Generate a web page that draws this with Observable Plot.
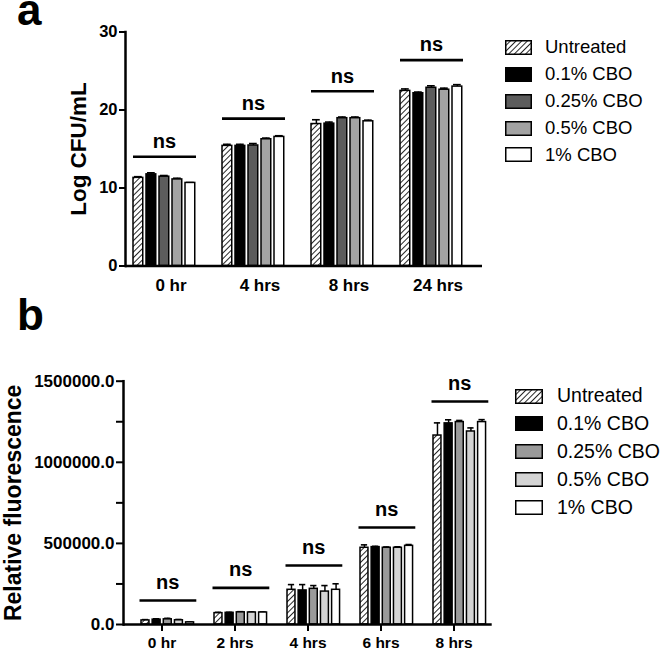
<!DOCTYPE html>
<html><head><meta charset="utf-8">
<script src="https://cdn.jsdelivr.net/npm/d3@7"></script>
<script src="https://cdn.jsdelivr.net/npm/@observablehq/plot@0.6"></script>
<style>
body{margin:0;background:#fff;font-family:"Liberation Sans",Arial,sans-serif;color:#000;}
#root{position:relative;width:666px;height:651px;overflow:hidden;background:#fff;}
.panel{position:absolute;left:0;}
.plabel{position:absolute;font-weight:bold;font-size:44px;line-height:20px;}
.row{position:absolute;display:flex;align-items:center;white-space:nowrap;}
.row svg{display:block;}
</style></head>
<body>
<svg width="0" height="0" style="position:absolute">
  <defs>
    <pattern id="hatch" patternUnits="userSpaceOnUse" width="4" height="4" patternTransform="rotate(45)">
      <rect width="4" height="4" fill="#fff"/>
      <line x1="0" y1="0" x2="0" y2="4" stroke="#000" stroke-width="1.7"/>
    </pattern>
  </defs>
</svg>
<div id="root"></div>
<script>
// ---------- data ----------
const treatments = ["Untreated", "0.1% CBO", "0.25% CBO", "0.5% CBO", "1% CBO"];

// Panel a: Log CFU/mL
const timesA = ["0 hr", "4 hrs", "8 hrs", "24 hrs"];
const untreatedA = [11.3, 15.4, 18.2, 22.45];
const cbo01A = [11.75, 15.4, 18.25, 22.15];
const cbo025A = [11.45, 15.45, 18.95, 22.85];
const cbo05A = [11.1, 16.25, 18.95, 22.6];
const cbo1A = [10.65, 16.55, 18.55, 23.0];
const untreatedErrA = [0.15, 0.2, 0.55, 0.25];
const cbo01ErrA = [0.2, 0.2, 0.2, 0.15];
const cbo025ErrA = [0.15, 0.25, 0.15, 0.25];
const cbo05ErrA = [0.15, 0.15, 0.15, 0.2];
const cbo1ErrA = [0.05, 0.15, 0.15, 0.25];
const sigA = [14.0, 18.9, 22.4, 26.4];
const yTicksA = [0, 10, 20, 30];
const fillsA = ["url(#hatch)", "#000000", "#5c5c5c", "#a3a3a3", "#ffffff"];

// Panel b: Relative fluorescence
const timesB = ["0 hr", "2 hrs", "4 hrs", "6 hrs", "8 hrs"];
const untreatedB = [25000, 70000, 214000, 473000, 1165000];
const cbo01B = [30000, 72000, 210000, 477000, 1240000];
const cbo025B = [32000, 75000, 220000, 473000, 1248000];
const cbo05B = [26000, 74000, 203000, 473000, 1190000];
const cbo1B = [13000, 74000, 214000, 485000, 1248000];
const untreatedErrB = [5000, 5000, 32000, 18000, 78000];
const cbo01ErrB = [5000, 3000, 36000, 5000, 22000];
const cbo025ErrB = [6000, 4000, 20000, 5000, 10000];
const cbo05ErrB = [5000, 3000, 37000, 6000, 22000];
const cbo1ErrB = [3000, 3000, 37000, 8000, 15000];
const sigB = [148000, 226000, 364000, 598000, 1375000];
const yTicksB = [0, 500000, 1000000, 1500000];
const yMinorB = [250000, 750000, 1250000];
const fillsB = ["url(#hatch)", "#000000", "#9a9a9a", "#d4d4d4", "#ffffff"];

// ---------- build tables ----------
function buildRows(times, vals, errs) {
  return times.flatMap((t, i) => treatments.map((tr, j) => ({time: t, treatment: tr, value: vals[j][i], err: errs[j][i]})));
}
const rowsA = buildRows(timesA, [untreatedA, cbo01A, cbo025A, cbo05A, cbo1A], [untreatedErrA, cbo01ErrA, cbo025ErrA, cbo05ErrA, cbo1ErrA]);
const rowsB = buildRows(timesB, [untreatedB, cbo01B, cbo025B, cbo05B, cbo1B], [untreatedErrB, cbo01ErrB, cbo025ErrB, cbo05ErrB, cbo1ErrB]);
const sigRowsA = timesA.map((t, i) => ({time: t, y: sigA[i]}));
const sigRowsB = timesB.map((t, i) => ({time: t, y: sigB[i]}));

const FONT = "Liberation Sans, Arial, sans-serif";

function panel(o) {
  const width = 666;
  const band = (width - o.marginLeft - o.marginRight) / o.times.length;
  const groupW = (treatments.length - 1) * o.barStep + o.barW;
  const marks = [];
  treatments.forEach((tr, j) => {
    const data = o.rows.filter(r => r.treatment === tr);
    const left = o.groupOffset + j * o.barStep;
    const right = band - left - o.barW;
    marks.push(Plot.ruleX(data, {x: "time", y1: "value", y2: d => d.value + d.err, dx: left + o.barW / 2 - band / 2, stroke: "#000", strokeWidth: 1.5}));
    marks.push(Plot.tickY(data, {x: "time", y: d => d.value + d.err, insetLeft: left + (o.barW - o.capW) / 2, insetRight: right + (o.barW - o.capW) / 2, stroke: "#000", strokeWidth: 1.6}));
    marks.push(Plot.barY(data, {x: "time", y: "value", fill: o.fills[j], stroke: "#000", strokeWidth: 1.5, insetLeft: left, insetRight: right}));
  });
  marks.push(Plot.tickY(o.sig, {x: "time", y: "y", insetLeft: o.sigInsetL, insetRight: o.sigInsetR, stroke: "#000", strokeWidth: 2.6}));
  marks.push(Plot.text(o.sig, {x: "time", y: "y", text: () => "ns", dx: o.groupOffset + groupW / 2 - band / 2, dy: o.nsDy, fontSize: 20, fontWeight: "bold", lineAnchor: "middle", fill: "#000"}));
  marks.push(Plot.axisY({ticks: o.yTicks, tickSize: o.yTickSize, tickPadding: 2, tickFormat: o.tickFormat, fontSize: o.yTickFont, fontWeight: "bold", label: null, strokeWidth: 2}));
  if (o.yMinor) marks.push(Plot.axisY({ticks: o.yMinor, tickSize: o.yTickSize, tickFormat: () => "", label: null, strokeWidth: 2}));
  marks.push(Plot.axisX({tickSize: o.xTickSize, tickPadding: o.xTickPad, fontSize: o.xTickFont, fontWeight: "bold", label: null, strokeWidth: 2}));
  marks.push(Plot.text([o.yLabel], {frameAnchor: "left", rotate: -90, dx: o.yLabelDx, fontSize: o.yLabelFont, fontWeight: "bold", textAnchor: "middle", lineAnchor: "middle", fill: "#000"}));
  marks.push(Plot.frame({anchor: "left", stroke: "#000", strokeWidth: 2.5}));
  marks.push(Plot.ruleY([0], {stroke: "#000", strokeWidth: 2.5}));
  return Plot.plot({
    width, height: o.height,
    marginLeft: o.marginLeft, marginRight: o.marginRight, marginTop: o.marginTop, marginBottom: o.marginBottom,
    style: {fontFamily: FONT, color: "#000", background: "#fff", overflow: "visible"},
    x: {domain: o.times, paddingInner: 0, paddingOuter: 0},
    y: {domain: o.yDomain},
    marks
  });
}

const root = document.getElementById("root");

const svgA = panel({
  times: timesA, rows: rowsA, sig: sigRowsA, fills: fillsA,
  yDomain: [0, 30], yTicks: yTicksA, tickFormat: d => String(d),
  height: 300, marginTop: 31.5, marginBottom: 34.5, marginLeft: 125, marginRight: 184,
  groupOffset: 7, barW: 10, barStep: 13, capW: 8, sigInsetL: 7, sigInsetR: 19, nsDy: -15,
  yTickSize: 6, yTickFont: 16.5, xTickSize: 0, xTickPad: 12.5, xTickFont: 17,
  yLabel: "Log CFU/mL", yLabelDx: -47, yLabelFont: 22.5
});
svgA.classList.add("panel"); svgA.style.top = "0px";
root.appendChild(svgA);

const svgB = panel({
  times: timesB, rows: rowsB, sig: sigRowsB, fills: fillsB,
  yDomain: [0, 1500000], yTicks: yTicksB, yMinor: yMinorB, tickFormat: d3.format(".1f"),
  height: 351, marginTop: 80.7, marginBottom: 27, marginLeft: 123, marginRight: 174.3,
  groupOffset: 16, barW: 8.7, barStep: 11.15, capW: 7, sigInsetL: 14.5, sigInsetR: 1.7, nsDy: -18,
  yTickSize: 7, yTickFont: 17, xTickSize: 7, xTickPad: 5.5, xTickFont: 15.5,
  yLabel: "Relative fluorescence", yLabelDx: -110, yLabelFont: 23
});
svgB.classList.add("panel"); svgB.style.top = "300px";
root.appendChild(svgB);

// panel letters
[["a", 0], ["b", 305]].forEach(([t, top]) => {
  const d = document.createElement("div");
  d.className = "plabel"; d.textContent = t;
  d.style.left = "17px"; d.style.top = top + "px";
  root.appendChild(d);
});

// legends
function legend(fills, swX, swW, swH, textX, fontSize, c0, step) {
  treatments.forEach((tr, j) => {
    const row = document.createElement("div");
    row.className = "row";
    row.style.left = swX + "px";
    row.style.top = (c0 + j * step - 12) + "px";
    row.style.height = "24px";
    const ns = "http://www.w3.org/2000/svg";
    const s = document.createElementNS(ns, "svg");
    s.setAttribute("width", swW); s.setAttribute("height", swH);
    const r = document.createElementNS(ns, "rect");
    r.setAttribute("x", 0.75); r.setAttribute("y", 0.75);
    r.setAttribute("width", swW - 1.5); r.setAttribute("height", swH - 1.5);
    r.setAttribute("fill", fills[j]); r.setAttribute("stroke", "#000"); r.setAttribute("stroke-width", 1.5);
    s.appendChild(r);
    row.appendChild(s);
    const sp = document.createElement("span");
    sp.textContent = tr;
    sp.style.fontSize = fontSize + "px";
    sp.style.lineHeight = fontSize + "px";
    sp.style.marginLeft = (textX - swX - swW) + "px";
    row.appendChild(sp);
    root.appendChild(row);
  });
}
legend(fillsA, 505, 27, 15, 545, 18.5, 47.3, 26.9);
legend(fillsB, 515, 28, 15, 557, 19.5, 396, 27.9);
</script>
</body></html>
